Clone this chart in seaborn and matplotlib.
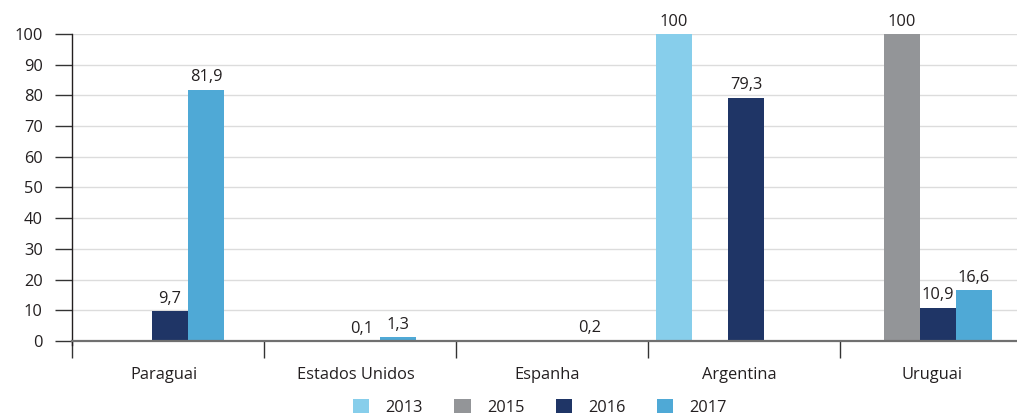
import matplotlib
matplotlib.use("Agg")
import matplotlib.pyplot as plt
import seaborn as sns
import pandas as pd

## data
paises = ["Paraguai", "Estados Unidos", "Espanha", "Argentina", "Uruguai"]
anos = ["2013", "2015", "2016", "2017"]
v2013 = [None, None, None, 100, None]
v2015 = [None, None, None, None, 100]
v2016 = [9.7, 0.1, None, 79.3, 10.9]
v2017 = [81.9, 1.3, 0.2, None, 16.6]
cores = ["#87ceeb", "#939598", "#1f3566", "#4fa9d6"]

rows = []
for ano, vals in zip(anos, [v2013, v2015, v2016, v2017]):
    for p, v in zip(paises, vals):
        if v is not None:
            rows.append({"pais": p, "ano": ano, "valor": v})
df = pd.DataFrame(rows)

sns.set_theme(style="white")
plt.rcParams["font.family"] = ["Open Sans", "DejaVu Sans"]
txt = "#231f20"
fs = 11.8

fig = plt.figure(figsize=(10.17, 4.18), dpi=100)
ax = fig.add_axes([0.0708, 0.1842, 1 - 0.0708, 0.9187 - 0.1842])

sns.barplot(
    data=df, x="pais", y="valor", hue="ano",
    order=paises, hue_order=anos, palette=cores, saturation=1,
    width=0.75, errorbar=None, ax=ax, legend=True, linewidth=0
)

for c in ax.containers:
    labels = []
    for v in c.datavalues:
        labels.append("100" if v == 100 else f"{v:.1f}".replace(".", ","))
    ax.bar_label(c, labels=labels, padding=3, fontsize=fs, color=txt)

## axes
ax.set_ylim(0, 100)
ax.set_xlim(-0.417, 4.505)
ax.set_yticks(range(0, 101, 10))
ax.yaxis.grid(True, color="#dcdcdc", lw=1)
ax.set_axisbelow(True)
ax.tick_params(axis="y", direction="out", length=12, width=1, color="#333333",
               pad=9, labelsize=fs, labelcolor=txt, left=True)

ax.set_xticks([k - 0.417 for k in range(5)])
ax.set_xticklabels([])
ax.set_xticks([k + 0.06 for k in range(5)], minor=True)
ax.set_xticklabels(paises, minor=True)
ax.tick_params(axis="x", which="major", direction="out", length=12, width=1,
               color="#333333", bottom=True)
ax.tick_params(axis="x", which="minor", length=0, pad=19, labelsize=fs,
               labelcolor=txt)

for s in ["top", "right"]:
    ax.spines[s].set_visible(False)
ax.spines["left"].set_color("#231f20")
ax.spines["left"].set_linewidth(1)
ax.spines["left"].set_bounds(-1.2, 100)
ax.spines["bottom"].set_color("#707070")
ax.spines["bottom"].set_linewidth(1.6)
ax.set_xlabel("")
ax.set_ylabel("")

## legend
h, l = ax.get_legend_handles_labels()
ax.get_legend().remove()
fig.legend(h, l, loc="center", bbox_to_anchor=(0.531, 0.026), ncol=4,
           frameon=False, fontsize=fs, labelcolor=txt,
           handlelength=1.0, handleheight=1.0, handletextpad=1.0,
           columnspacing=1.9)

fig.savefig("out.png", dpi=100)
